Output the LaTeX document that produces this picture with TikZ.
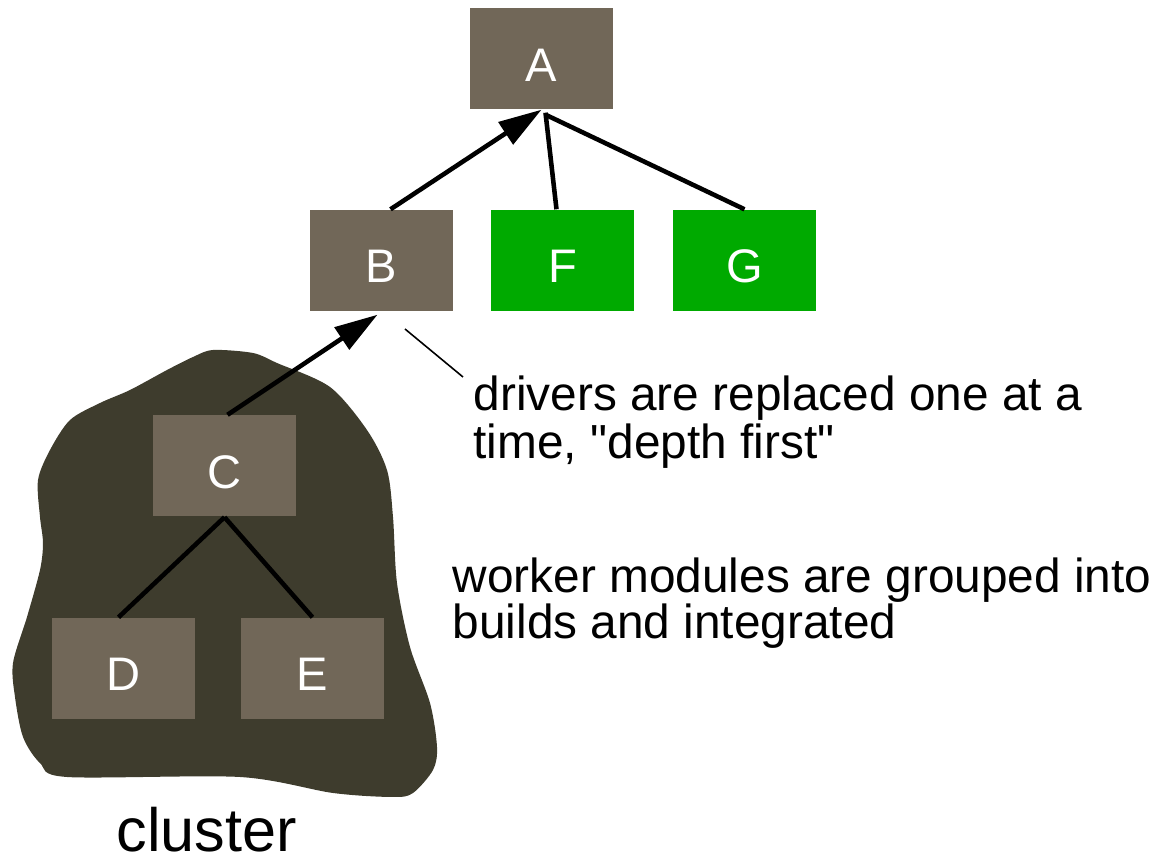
\documentclass[tikz,border=0pt]{standalone}
\usepackage{fontspec}
\setmainfont{Liberation Sans}
\newfontfamily\notefont{Liberation Sans}
\definecolor{modbrown}{RGB}{113, 103, 88}
\definecolor{drvgreen}{RGB}{0, 170, 0}
\definecolor{clusterdark}{RGB}{62, 60, 45}
\usetikzlibrary{arrows.meta, positioning}

\begin{document}
\begin{tikzpicture}[
  modbox/.style={minimum width=1.43cm, minimum height=1.01cm, inner sep=0pt, text height=0.45cm, text=white, font=\fontsize{13.4}{16}\selectfont},
  link/.style={line width=1.3pt},
  uplink/.style={link, -{Triangle[length=4.3mm, width=2.6mm]}},
  note/.style={anchor=base west, align=left, inner sep=0pt, font=\notefont\fontsize{13.6}{13.9}\selectfont}
]
  \useasboundingbox (0,0) rectangle (11.59,-8.60);

  % Cluster
  \fill[clusterdark] plot[smooth cycle, tension=0.5] coordinates {
    (2.13,-3.50) (2.53,-3.53) (2.77,-3.63) (3.30,-3.87) (3.67,-4.30) (3.87,-4.70)
    (3.93,-5.17) (3.97,-5.83) (4.10,-6.47) (4.30,-7.03) (4.37,-7.47) (4.33,-7.70)
    (4.13,-7.93) (3.93,-7.97) (3.33,-7.93) (2.40,-7.77) (0.67,-7.77) (0.40,-7.63)
    (0.23,-7.37) (0.15,-6.97) (0.13,-6.63) (0.27,-6.17) (0.40,-5.70) (0.43,-5.43)
    (0.40,-5.17) (0.38,-4.80) (0.50,-4.50) (0.70,-4.20) (1.00,-4.03) (1.30,-3.90)
    (1.67,-3.70) (1.93,-3.57)
  };

  % Modules
  \node[modbox, fill=modbrown] (A) at (5.415, -0.585) {A};
  \node[modbox, fill=modbrown] (B) at (3.815, -2.605) {B};
  \node[modbox, fill=drvgreen] (F) at (5.625, -2.605) {F};
  \node[modbox, fill=drvgreen] (G) at (7.445, -2.605) {G};
  \node[modbox, fill=modbrown] (C) at (2.245, -4.660) {C};
  \node[modbox, fill=modbrown] (D) at (1.235, -6.685) {D};
  \node[modbox, fill=modbrown] (E) at (3.125, -6.685) {E};

  % Links
  \draw[uplink] ([xshift=0.9mm]B.north) -- (A.south);
  \draw[link] ([xshift=-0.6mm]F.north) -- ([xshift=0.4mm, yshift=-0.3mm]A.south);
  \draw[link] (G.north) -- ([xshift=0.4mm, yshift=-0.5mm]A.south);
  \draw[uplink] ([xshift=0.3mm]C.north) -- ([xshift=-0.4mm, yshift=-0.3mm]B.south);
  \draw[link] (C.south) -- ([xshift=-0.5mm]D.north);
  \draw[link] (C.south) -- (E.north);

  % Notes
  \coordinate (drvtip) at (4.05, -3.29);
  \coordinate (drvend) at (4.63, -3.77);
  \draw[line width=0.45pt] (drvtip) -- (drvend);
  \node[note] (drivers) at (4.73, -4.59) {drivers are replaced one at a\\time, "depth first"};
  \node[note, font=\notefont\fontsize{13.6}{13.1}\selectfont] (workers) at (4.52, -6.39) {worker modules are grouped into\\builds and integrated};
  \node[anchor=base west, inner sep=0pt, font=\fontsize{17.4}{20}\selectfont] (cluster) at (1.16, -8.52) {cluster};
\end{tikzpicture}
\end{document}
